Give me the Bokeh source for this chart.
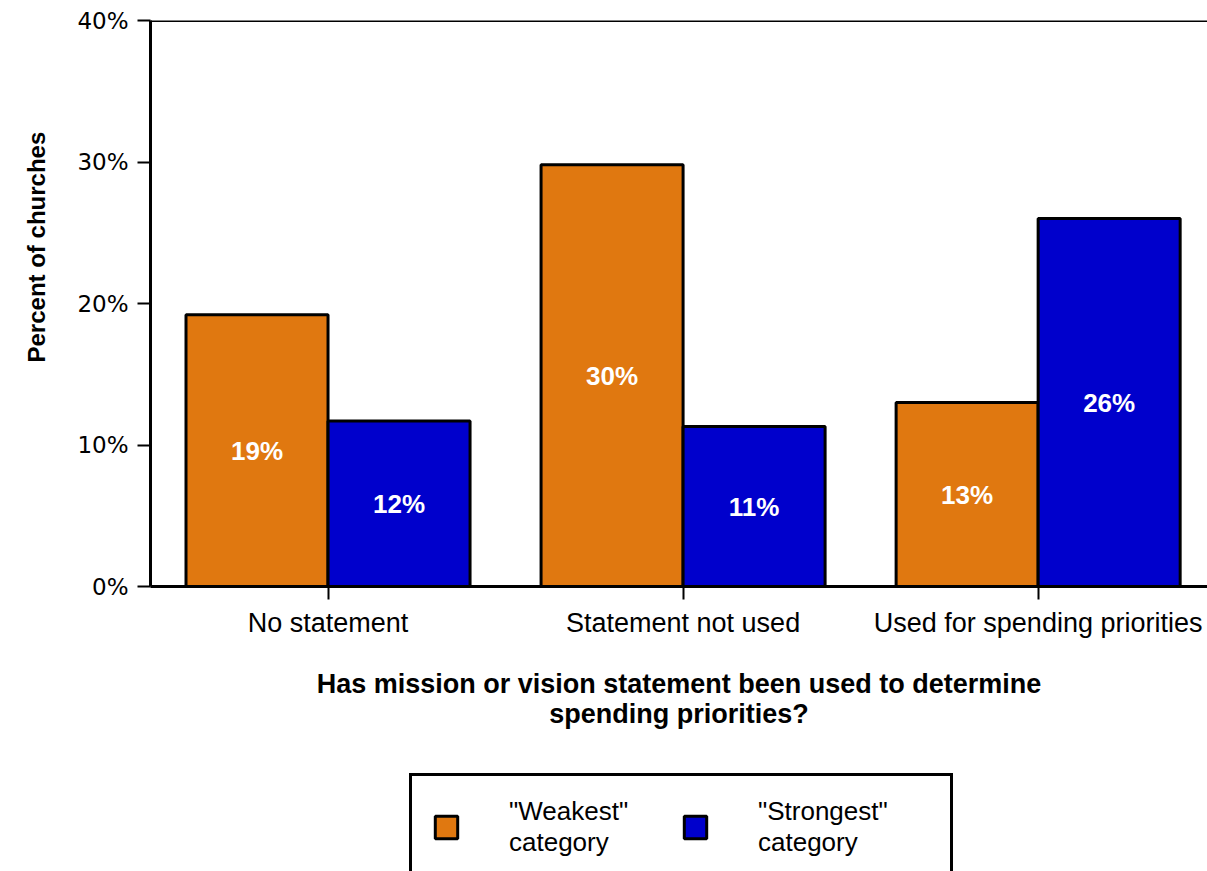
import numpy as np
from bokeh.plotting import figure
from bokeh.layouts import column
from bokeh.models import (ColumnDataSource, FixedTicker, Legend, LegendItem,
                          Title, LabelSet, Span)
from bokeh.embed import file_html
from bokeh.resources import INLINE
from bokeh.core.properties import value

# ---- data ----
categories = ["No statement", "Statement not used", "Used for spending priorities"]
weakest = [19.2, 29.8, 13.0]
strongest = [11.7, 11.3, 26.0]
weakest_labels = ["19%", "30%", "13%"]
strongest_labels = ["12%", "11%", "26%"]
y_ticks = [0, 10, 20, 30, 40]
y_tick_labels = ["0%", "10%", "20%", "30%", "40%"]
series_names = ['"Weakest"\ncategory', '"Strongest"\ncategory']
x_title = "Has mission or vision statement been used to determine\nspending priorities?"
y_title = "Percent of churches"

# ---- styling ----
FONT = "Liberation Sans"
ORANGE = "#E07810"
BLUE = "#0000CC"
colors = [ORANGE, BLUE]
W = 1207
H_MAIN = 760
H_LEG = 111

centers = [i + 0.5 for i in range(len(categories))]
src_w = ColumnDataSource(dict(x=[c - 0.2 for c in centers], top=weakest,
                              mid=[v / 2 for v in weakest], lab=weakest_labels))
src_s = ColumnDataSource(dict(x=[c + 0.2 for c in centers], top=strongest,
                              mid=[v / 2 for v in strongest], lab=strongest_labels))

p = figure(width=W, height=H_MAIN, output_backend="svg", toolbar_location=None,
           x_range=(0, 2.977), y_range=(0, 40),
           min_border_left=150, min_border_top=20, min_border_right=0,
           min_border_bottom=H_MAIN - 586)
p.outline_line_color = None
p.grid.visible = False
p.background_fill_color = "white"
p.border_fill_color = "white"

r_w = p.vbar(x="x", top="top", width=0.4, source=src_w, fill_color=ORANGE,
             line_color="black", line_width=3)
r_s = p.vbar(x="x", top="top", width=0.4, source=src_s, fill_color=BLUE,
             line_color="black", line_width=3)

for src in (src_w, src_s):
    p.add_layout(LabelSet(x="x", y="mid", text="lab", source=src,
                          text_color="white", text_font=value(FONT),
                          text_font_style="bold", text_font_size="26px",
                          text_align="center", text_baseline="middle"))

# top frame line
p.add_layout(Span(location=40, dimension="width", line_color="black", line_width=3))

# y axis
ya = p.yaxis[0]
ya.ticker = FixedTicker(ticks=y_ticks)
ya.major_label_overrides = {t: l for t, l in zip(y_ticks, y_tick_labels)}
ya.axis_line_width = 3
ya.axis_line_color = "black"
ya.major_tick_out = 13
ya.major_tick_in = 0
ya.major_tick_line_width = 2
ya.minor_tick_line_color = None
ya.major_label_text_font = "DejaVu Sans"
ya.major_label_text_font_size = "23px"
ya.major_label_text_color = "black"
ya.major_label_standoff = 9

# x axis
xa = p.xaxis[0]
xa.ticker = FixedTicker(ticks=centers)
xa.major_label_overrides = {c: n for c, n in zip(centers, categories)}
xa.axis_line_width = 3
xa.axis_line_color = "black"
xa.major_tick_out = 13
xa.major_tick_in = 0
xa.major_tick_line_width = 2
xa.minor_tick_line_color = None
xa.major_label_text_font = FONT
xa.major_label_text_font_size = "27px"
xa.major_label_text_color = "black"
xa.major_label_standoff = 8
xa.axis_label = x_title
xa.axis_label_text_font = FONT
xa.axis_label_text_font_size = "27px"
xa.axis_label_text_font_style = "bold"
xa.axis_label_text_color = "black"
xa.axis_label_text_line_height = 1.0
xa.axis_label_standoff = 28

# y title in the left panel, shifted up like the reference
p.add_layout(Title(text=y_title, align="left", offset=224, standoff=45,
                   vertical_align="top",
                   text_font=FONT, text_font_size="24px",
                   text_font_style="bold", text_color="black"), "left")

# ---- legend strip below ----
lf = figure(width=W, height=H_LEG, output_backend="svg", toolbar_location=None,
            x_range=(0, 1), y_range=(0, 1), x_axis_type=None, y_axis_type=None,
            min_border_left=150, min_border_top=0, min_border_right=0,
            min_border_bottom=0)
lf.outline_line_color = None
lf.grid.visible = False
lf.background_fill_color = "white"
lf.border_fill_color = "white"
leg_renderers = [lf.vbar(x=np.array([np.nan]), top=np.array([np.nan]), width=0.4,
                         fill_color=c, line_color="black", line_width=3)
                 for c in colors]

legend = Legend(items=[LegendItem(label=n, renderers=[r])
                       for n, r in zip(series_names, leg_renderers)],
                orientation="horizontal", location=(259, -10),
                border_line_color="black", border_line_width=3,
                border_line_alpha=1,
                padding=20, spacing=0, margin=0,
                glyph_width=28, glyph_height=28, label_standoff=49,
                label_width=172, label_text_font=FONT,
                label_text_font_size="26px", label_text_color="black",
                background_fill_color="white", background_fill_alpha=1)
lf.add_layout(legend, "center")

layout = column(p, lf, spacing=0)
open("out.html", "w").write(file_html(layout, INLINE))
